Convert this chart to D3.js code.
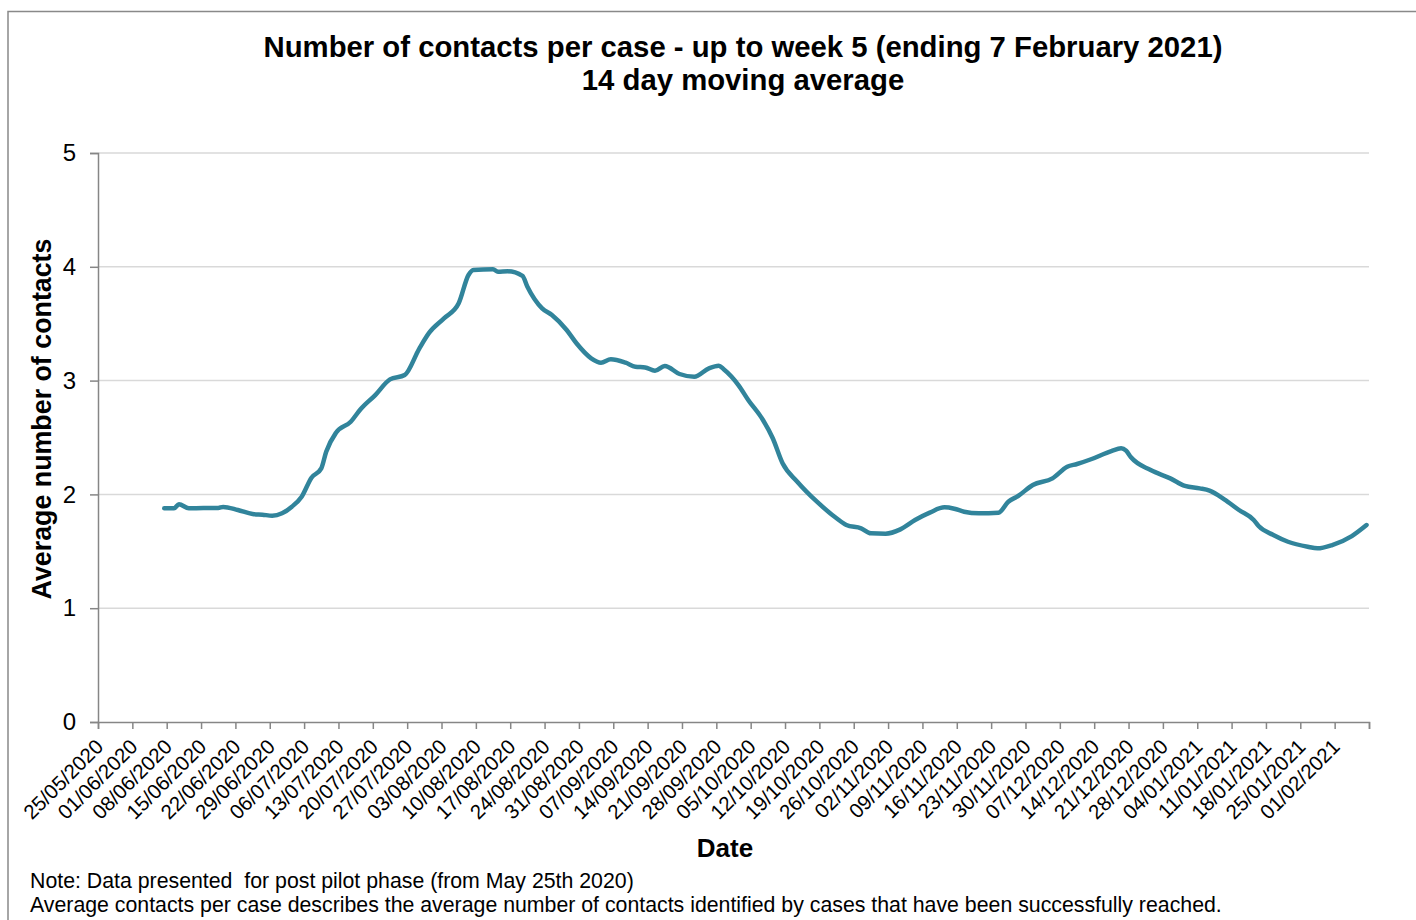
<!DOCTYPE html>
<html><head><meta charset="utf-8">
<script src="https://cdn.jsdelivr.net/npm/d3@7"></script>
<style>
html,body{margin:0;padding:0;background:#fff;}
svg{display:block;font-family:"Liberation Sans",Arial,sans-serif;}
text{white-space:pre;}
</style></head>
<body>
<svg id="c" width="1416" height="920"></svg>
<script>
const titleLines = ["Number of contacts per case - up to week 5 (ending 7 February 2021)", "14 day moving average"];
const yAxisTitle = "Average number of contacts";
const xAxisTitle = "Date";
const notes = ["Note: Data presented  for post pilot phase (from May 25th 2020)",
  "Average contacts per case describes the average number of contacts identified by cases that have been successfully reached."];
const yTicks = [0, 1, 2, 3, 4, 5];
const axisStart = "2020-05-25";
const axisEnd = "2021-02-08";

const dates = ["2020-06-07","2020-06-09","2020-06-10","2020-06-12","2020-06-15","2020-06-18","2020-06-19","2020-06-22","2020-06-25","2020-06-27","2020-06-29",
"2020-07-01","2020-07-03","2020-07-05","2020-07-07","2020-07-09","2020-07-10","2020-07-12","2020-07-15","2020-07-17","2020-07-20","2020-07-23","2020-07-26","2020-07-29","2020-07-31",
"2020-08-03","2020-08-06","2020-08-08","2020-08-09","2020-08-13","2020-08-14","2020-08-16","2020-08-19","2020-08-20","2020-08-23","2020-08-25","2020-08-28","2020-08-30",
"2020-09-02","2020-09-04","2020-09-06","2020-09-09","2020-09-11","2020-09-13","2020-09-15","2020-09-17","2020-09-20","2020-09-23","2020-09-26","2020-09-28","2020-09-29",
"2020-10-02","2020-10-04","2020-10-07","2020-10-09","2020-10-11","2020-10-14","2020-10-18","2020-10-22","2020-10-24","2020-10-27","2020-10-29",
"2020-11-01","2020-11-04","2020-11-07","2020-11-10","2020-11-13","2020-11-15","2020-11-17","2020-11-20","2020-11-24","2020-11-26","2020-11-28",
"2020-12-01","2020-12-05","2020-12-08","2020-12-10","2020-12-13","2020-12-17","2020-12-19","2020-12-20","2020-12-21","2020-12-25","2020-12-29",
"2021-01-01","2021-01-04","2021-01-06","2021-01-09","2021-01-12","2021-01-15","2021-01-16","2021-01-19","2021-01-22","2021-01-26","2021-01-28","2021-01-31",
"2021-02-04","2021-02-07"];
const contacts = [1.878,1.878,1.913,1.878,1.880,1.880,1.890,1.863,1.828,1.822,1.813,
1.834,1.892,1.980,2.147,2.229,2.375,2.542,2.639,2.748,2.873,3.011,3.049,3.284,3.421,
3.547,3.679,3.928,3.972,3.978,3.957,3.960,3.920,3.825,3.635,3.576,3.445,3.328,
3.196,3.157,3.187,3.157,3.122,3.116,3.087,3.128,3.058,3.034,3.108,3.131,3.100,
2.961,2.830,2.654,2.493,2.273,2.112,1.936,1.790,1.731,1.702,1.658,
1.655,1.693,1.775,1.840,1.886,1.874,1.848,1.834,1.839,1.936,1.986,
2.083,2.141,2.243,2.267,2.311,2.381,2.405,2.384,2.326,2.214,2.141,
2.074,2.053,2.033,1.957,1.863,1.775,1.722,1.643,1.584,1.540,1.526,1.555,
1.634,1.731];

const parse = d3.utcParse("%Y-%m-%d");
const fmt = d3.utcFormat("%d/%m/%Y");
const HALF_DAY = 12 * 3600 * 1000;
const data = dates.map((d, i) => ({date: new Date(parse(d).getTime() + HALF_DAY), v: contacts[i]}));

const svg = d3.select("#c");
const L = 98, R = 1369, T = 153, B = 722;
const x = d3.scaleUtc().domain([parse(axisStart), parse(axisEnd)]).range([L, R]);
const y = d3.scaleLinear().domain([0, 5]).range([B, T]);

// outer border
svg.append("path").attr("d", `M8,920 L8,11.5 L1416,11.5`).attr("fill", "none").attr("stroke", "#898989").attr("stroke-width", 1.5);

// title
svg.append("text").attr("x", 743).attr("y", 57).attr("text-anchor", "middle")
  .attr("font-size", 29.3).attr("font-weight", "bold").text(titleLines[0]);
svg.append("text").attr("x", 743).attr("y", 90).attr("text-anchor", "middle")
  .attr("font-size", 29.3).attr("font-weight", "bold").text(titleLines[1]);

// gridlines
svg.append("g").selectAll("line").data(yTicks.filter(t => t > 0)).join("line")
  .attr("x1", L).attr("x2", R).attr("y1", d => y(d)).attr("y2", d => y(d))
  .attr("stroke", "#d9d9d9").attr("stroke-width", 1.5);

// y axis
const yAx = svg.append("g").attr("transform", `translate(${L},0)`)
  .call(d3.axisLeft(y).tickValues(yTicks).tickSize(8).tickPadding(14).tickFormat(d3.format("d")));
yAx.select(".domain").attr("stroke", "#868686").attr("stroke-width", 1.5);
yAx.selectAll(".tick line").attr("stroke", "#868686").attr("stroke-width", 1.5);
yAx.selectAll(".tick text").attr("font-size", 24).attr("fill", "#000").attr("font-family", "Liberation Sans, Arial, sans-serif");

// x axis
const tickDates = d3.range(0, 38).map(i => d3.utcDay.offset(parse(axisStart), i * 7));
const xAx = svg.append("g").attr("transform", `translate(0,${B})`)
  .call(d3.axisBottom(x).tickValues(tickDates).tickSize(7).tickFormat((d, i) => i < 37 ? fmt(d) : ""));
xAx.select(".domain").attr("stroke", "#868686").attr("stroke-width", 1.5);
xAx.selectAll(".tick line").attr("stroke", "#868686").attr("stroke-width", 1.5);
xAx.selectAll(".tick text").attr("font-size", 20.5).attr("fill", "#000")
  .attr("font-family", "Liberation Sans, Arial, sans-serif")
  .attr("text-anchor", "end").attr("dy", null).attr("y", 0)
  .attr("transform", "translate(6,26) rotate(-45)");

// line
const line = d3.line().x(d => x(d.date)).y(d => y(d.v)).curve(d3.curveMonotoneX);
svg.append("path").datum(data).attr("d", line).attr("fill", "none")
  .attr("stroke", "#31849b").attr("stroke-width", 4.5).attr("stroke-linejoin", "round").attr("stroke-linecap", "round");

// axis titles
svg.append("text").attr("transform", `translate(51,${(240+598)/2}) rotate(-90)`).attr("text-anchor", "middle")
  .attr("font-size", 26.8).attr("font-weight", "bold").text(yAxisTitle);
svg.append("text").attr("x", 725).attr("y", 857).attr("text-anchor", "middle")
  .attr("font-size", 26).attr("font-weight", "bold").text(xAxisTitle);

// notes
svg.append("text").attr("x", 30).attr("y", 888).attr("font-size", 21.3).text(notes[0]);
svg.append("text").attr("x", 30).attr("y", 912).attr("font-size", 21.3).text(notes[1]);
</script>
</body></html>
